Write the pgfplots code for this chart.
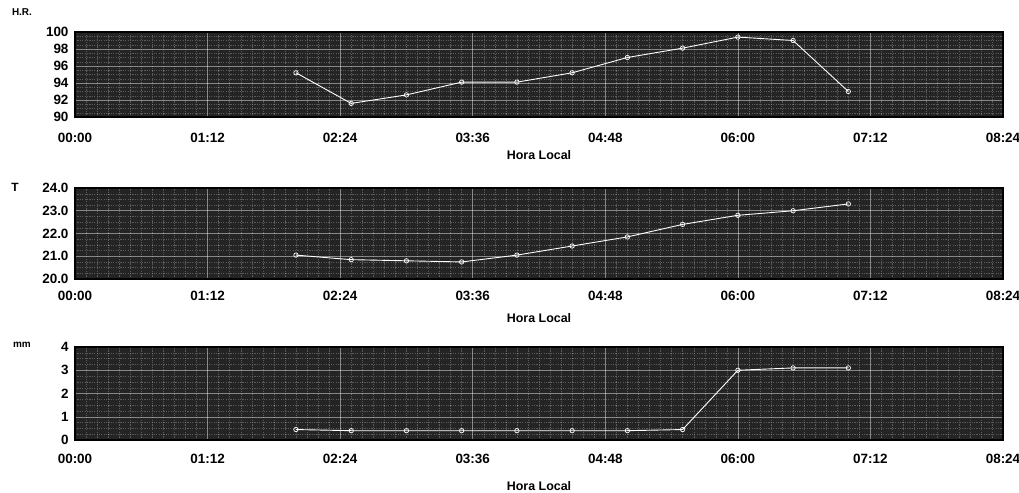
\documentclass[border=0pt]{standalone}
\usepackage{fontspec}
\setmainfont{Liberation Sans}
\usepackage{pgfplots}
\pgfplotsset{compat=1.18}
\begin{document}
\begin{tikzpicture}
\path[use as bounding box] (0bp,0bp) rectangle (1019bp,493bp);
\pgfplotsset{panel/.style={
  scale only axis, width=928bp,
  anchor=south west,
  xmin=0, xmax=504,
  xtick={0,72,144,216,288,360,432,504},
  xticklabels={00:00,01:12,02:24,03:36,04:48,06:00,07:12,08:24},
  /pgf/number format/assume math mode=true,
  ticklabel style={font=\fontsize{13.5}{13.5}\selectfont\bfseries},
  yticklabel style={xshift=-3bp},
  xlabel={Hora Local},
  xlabel style={font=\fontsize{12.5}{12.5}\selectfont\bfseries, at={(rel axis cs:0.5,0)}, anchor=center},
  axis background/.style={fill=black!86},
  axis line style={line width=1.6pt},
  major tick length=0pt, minor tick length=0pt,
  minor x tick num=11, minor y tick num=3,
  grid=both,
  major grid style={white, opacity=0.45, line width=0.5pt},
  minor grid style={white, opacity=0.25, line width=0.35pt, dash pattern=on 1.2pt off 1.2pt},
  clip=false,
}, dat/.style={white, line width=0.9pt, mark=o, mark size=2.2bp, mark options={solid, white, line width=0.7pt}}}
% Top panel: relative humidity
\begin{axis}[panel, at={(75bp,376bp)}, height=85bp,
  ymin=90, ymax=100, ytick={90,92,...,100},
  xlabel style={yshift=-38bp},
  xticklabel style={yshift=-13bp}]
\addplot[dat] coordinates {(120,95.2) (150,91.6) (180,92.6) (210,94.1) (240,94.1) (270,95.2) (300,97.0) (330,98.1) (360,99.4) (390,99.0) (420,93.0)};
\node[font=\fontsize{10}{10}\selectfont\bfseries] at (rel axis cs:0,1) [xshift=-53bp, yshift=20bp] {H.R.};
\end{axis}
% Middle panel: temperature
\begin{axis}[panel, at={(75bp,214bp)}, height=91bp,
  ymin=20, ymax=24, ytick={20,21,22,23,24},
  yticklabel style={/pgf/number format/.cd, fixed, fixed zerofill, precision=1},
  xlabel style={yshift=-39bp},
  xticklabel style={yshift=-9bp}]
\addplot[dat] coordinates {(120,21.05) (150,20.85) (180,20.8) (210,20.75) (240,21.05) (270,21.45) (300,21.85) (330,22.4) (360,22.8) (390,23.0) (420,23.3)};
\node[font=\fontsize{12}{12}\selectfont\bfseries] at (rel axis cs:0,1) [xshift=-60bp, yshift=1bp] {T};
\end{axis}
% Bottom panel: precipitation
\begin{axis}[panel, at={(75bp,53bp)}, height=93bp,
  ymin=0, ymax=4, ytick={0,1,2,3,4},
  xlabel style={yshift=-46bp},
  xticklabel style={yshift=-11bp}]
\addplot[dat] coordinates {(120,0.45) (150,0.4) (180,0.4) (210,0.4) (240,0.4) (270,0.4) (300,0.4) (330,0.45) (360,3.0) (390,3.1) (420,3.1)};
\node[font=\fontsize{10}{10}\selectfont\bfseries] at (rel axis cs:0,1) [xshift=-53bp, yshift=2bp] {mm};
\end{axis}
\end{tikzpicture}
\end{document}
